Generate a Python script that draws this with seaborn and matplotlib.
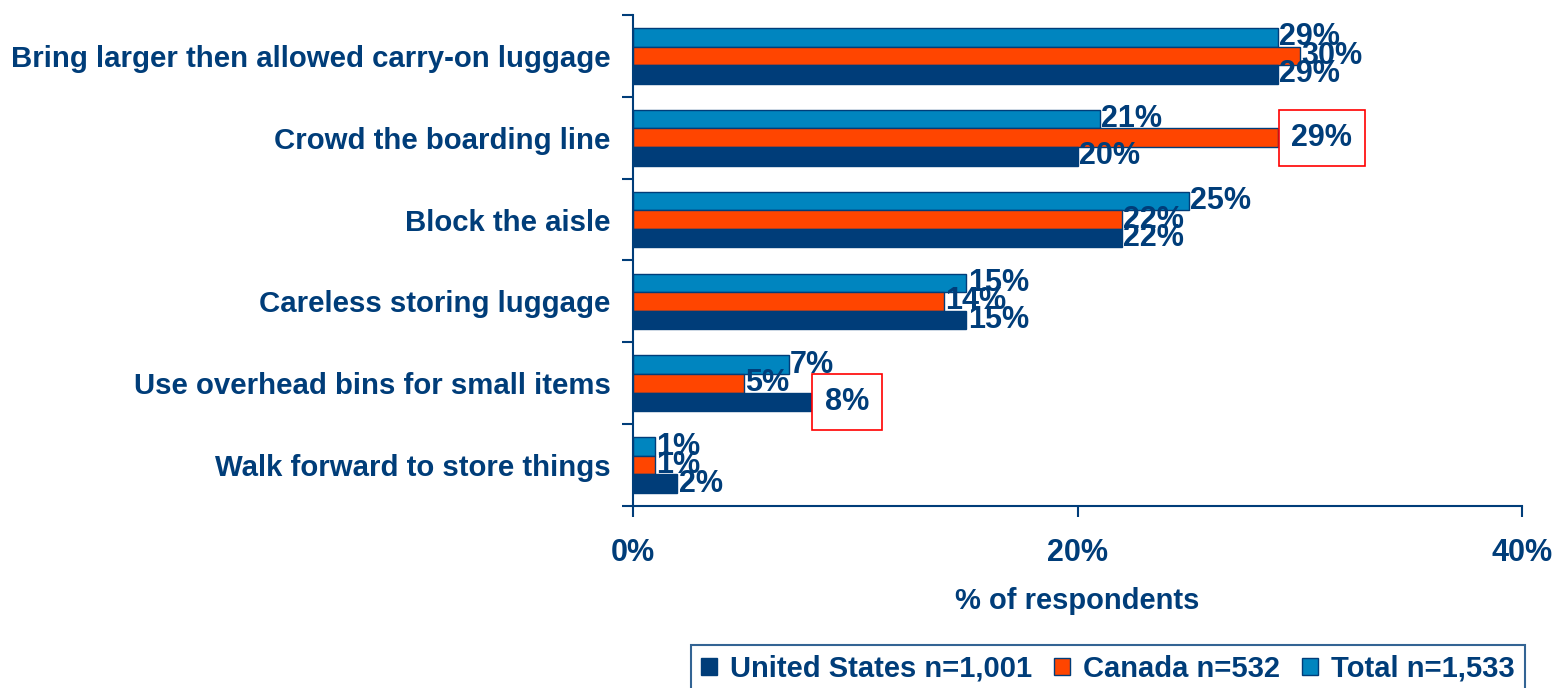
import matplotlib
matplotlib.use("Agg")
import matplotlib.pyplot as plt
from matplotlib.patches import Patch
from matplotlib.ticker import FixedLocator
import seaborn as sns
import pandas as pd

categories = [
    "Bring larger then allowed carry-on luggage",
    "Crowd the boarding line",
    "Block the aisle",
    "Careless storing luggage",
    "Use overhead bins for small items",
    "Walk forward to store things",
]
us_values = [29, 20, 22, 15, 8, 2]
canada_values = [30, 29, 22, 14, 5, 1]
total_values = [29, 21, 25, 15, 7, 1]
series_names = ["United States n=1,001", "Canada n=532", "Total n=1,533"]
x_ticks = [0, 20, 40]
x_tick_labels = ["0%", "20%", "40%"]

NAVY = "#003D79"
colors = {series_names[0]: "#003D79", series_names[1]: "#FF4500", series_names[2]: "#0085BF"}

sns.set_style("white")
FONT = ["Liberation Sans", "DejaVu Sans"]
plt.rcParams["font.family"] = FONT

rows = []
for i, c in enumerate(categories):
    rows.append((c, series_names[0], us_values[i]))
    rows.append((c, series_names[1], canada_values[i]))
    rows.append((c, series_names[2], total_values[i]))
df = pd.DataFrame(rows, columns=["category", "series", "value"])

fig = plt.figure(figsize=(15.55, 6.88), dpi=100)
ax = fig.add_axes([633 / 1555, 1 - 506 / 688, (1522 - 633) / 1555, (506 - 15) / 688])

hue_order = [series_names[2], series_names[1], series_names[0]]
sns.barplot(data=df, y="category", x="value", hue="series", hue_order=hue_order,
            order=categories, orient="h", palette=colors, saturation=1, width=0.68,
            edgecolor=NAVY, linewidth=1.0, legend=False, ax=ax)

ax.set_xlim(0, 40)
ax.set_ylim(len(categories) - 0.5, -0.5)

boxed = {(series_names[1], 1), (series_names[0], 4)}
for cont, name in zip(ax.containers, hue_order):
    labels = ax.bar_label(cont, fmt="%d%%", padding=1, color=NAVY,
                          fontsize=22, fontweight="bold")
    for j, t in enumerate(labels):
        t.set_va("center")
        if (name, j) in boxed:
            t.xyann = (10, 0)
            t.set_bbox(dict(boxstyle="square,pad=0.42", fc="white", ec="#FF0000", lw=1.2))

# axes styling
for s in ["top", "right"]:
    ax.spines[s].set_visible(False)
for s in ["left", "bottom"]:
    ax.spines[s].set_color(NAVY)
    ax.spines[s].set_linewidth(1.5)

ax.xaxis.set_major_locator(FixedLocator(x_ticks))
ax.set_xticklabels(x_tick_labels, fontsize=22, fontweight="bold", color=NAVY)
ax.tick_params(axis="x", which="major", bottom=True, length=8, width=1.5, color=NAVY, pad=15, direction="out")

ax.set_yticks(range(len(categories)))
ax.set_yticklabels(categories, fontsize=21.2, fontweight="bold", color=NAVY)
ax.tick_params(axis="y", which="major", left=False, length=0, pad=16)
ax.yaxis.set_minor_locator(FixedLocator([k - 0.5 for k in range(len(categories) + 1)]))
ax.tick_params(axis="y", which="minor", left=True, length=8, width=1.5, color=NAVY, direction="out")

ax.set_xlabel("% of respondents", fontsize=21, fontweight="bold", color=NAVY, labelpad=14)
ax.set_ylabel("")

handles = [Patch(facecolor=colors[n], edgecolor=NAVY, linewidth=1.0) for n in series_names]
leg = fig.legend(handles, series_names, loc="upper center", bbox_to_anchor=(1108 / 1555, 1 - 630 / 688),
                 ncol=3, frameon=True, fancybox=False, handlelength=0.55, handleheight=0.55,
                 handletextpad=0.45, columnspacing=0.75, borderpad=0.35,
                 prop={"weight": "bold", "size": 21})
leg.get_frame().set_edgecolor(NAVY)
leg.get_frame().set_linewidth(1.5)
for t in leg.get_texts():
    t.set_color(NAVY)

fig.savefig("out.png", dpi=100)
